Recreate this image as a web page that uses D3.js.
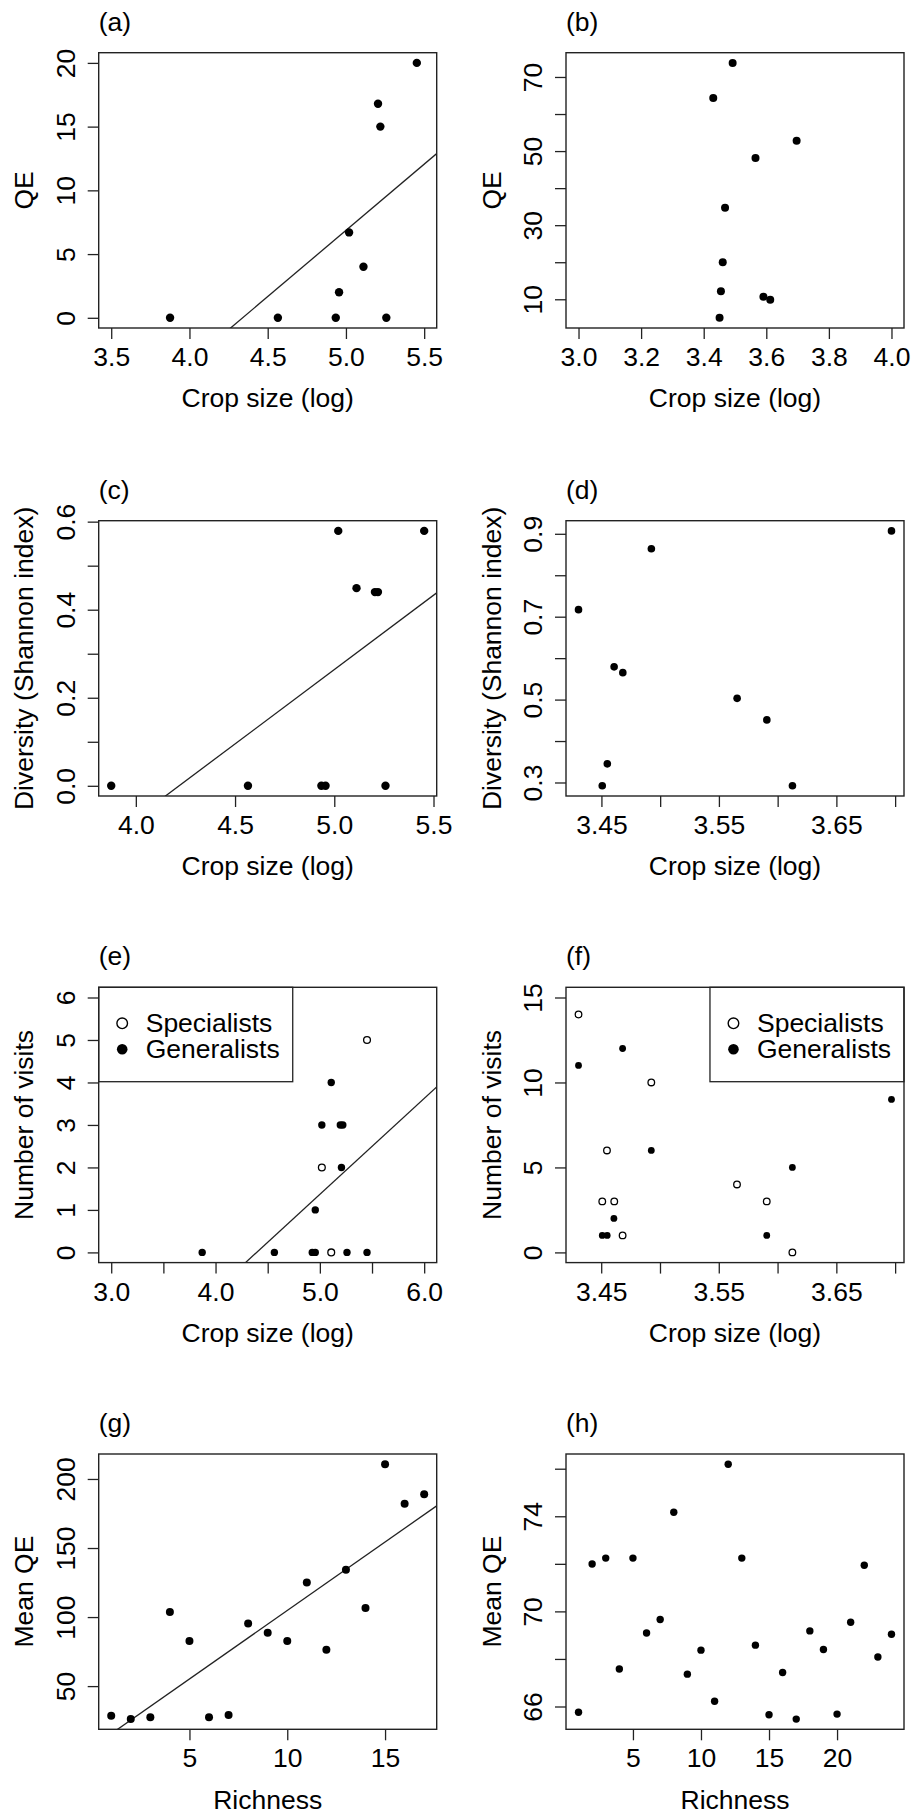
<!DOCTYPE html>
<html lang="en">
<head>
<meta charset="UTF-8">
<title>Crop size, QE, diversity and visits</title>
<script src="https://cdnjs.cloudflare.com/ajax/libs/d3/7.8.5/d3.min.js"></script>
<style>
  body { margin: 0; background: #fff; }
  svg { display: block; }
</style>
</head>
<body>
<svg id="chart" width="911" height="1816"></svg>
<script>
// ---- data ----
// crop size (log) of the sites, left column (a, c)
const cropDry = [3.876, 4.565, 4.935, 4.956, 5.02, 5.112, 5.205, 5.22, 5.258, 5.453];
const qeA     = [0, 0, 0, 2, 6.7, 4, 16.8, 15, 0, 20];
const divC    = [0, 0, 0, 0, 0.579, 0.449, 0.44, 0.44, 0, 0.579];

// crop size (log) of the sites, right column (b, d)
const cropWet = [3.4305, 3.4507, 3.455, 3.4608, 3.4682, 3.4925, 3.5655, 3.5908, 3.6126, 3.6969];
const qeB     = [64.3, 5.0, 12.2, 20, 34.7, 73.8, 48.1, 10.7, 9.9, 52.8];
const divD    = [0.717, 0.292, 0.345, 0.579, 0.565, 0.864, 0.503, 0.451, 0.292, 0.907];

// visits (e): visible points only
const specE_x = [5.019, 5.109, 5.452];
const specE_y = [2, 0, 5];
const genE_x  = [3.872, 4.564, 4.927, 4.956, 4.956, 5.019, 5.109, 5.196, 5.22, 5.207, 5.26, 5.452];
const genE_y  = [0, 0, 0, 0, 1, 3, 4, 3, 3, 2, 0, 0];

// visits (f)
const specF_x = [3.4307, 3.4926, 3.4549, 3.4509, 3.4611, 3.4682, 3.5655, 3.5908, 3.6126];
const specF_y = [14, 10, 6, 3, 3, 1, 4, 3, 0];
const genF_x  = [3.4307, 3.4682, 3.4926, 3.4608, 3.4509, 3.4551, 3.5908, 3.6126, 3.6969];
const genF_y  = [11, 12, 6, 2, 1, 1, 1, 5, 9];

// richness vs mean QE (g, h)
const richG   = [1, 2, 3, 4, 5, 6, 7, 8, 9, 10, 11, 12, 13, 14, 15, 16, 17];
const meanQeG = [28.5, 26.1, 27.5, 103.7, 82.7, 27.5, 29, 95.3, 88.7, 82.7, 125, 76.4, 134.2, 106.6, 210.7, 182, 188.9];
const richH   = [1, 2, 3, 4, 5, 6, 7, 8, 9, 10, 11, 12, 13, 14, 15, 16, 17, 18, 19, 20, 21, 22, 23, 24];
const meanQeH = [65.76, 71.99, 72.24, 67.58, 72.24, 69.09, 69.66, 74.17, 67.36, 68.37, 66.22, 76.19,
                 72.24, 68.58, 65.65, 67.43, 65.47, 69.18, 68.4, 65.68, 69.54, 71.94, 68.08, 69.04];

// fitted lines [intercept, slope]
const fitA = [-45.09, 10.39];
const fitC = [-1.424, 0.3376];
const fitE = [-9.917, 2.257];
const fitG = [5.55, 9.92];

// ticks and their labels ("" = tick without label)
const ticksA_x = [3.5, 4, 4.5, 5, 5.5],  labelsA_x = ["3.5", "4.0", "4.5", "5.0", "5.5"];
const ticksA_y = [0, 5, 10, 15, 20],     labelsA_y = ["0", "5", "10", "15", "20"];
const ticksB_x = [3, 3.2, 3.4, 3.6, 3.8, 4], labelsB_x = ["3.0", "3.2", "3.4", "3.6", "3.8", "4.0"];
const ticksB_y = [10, 20, 30, 40, 50, 60, 70], labelsB_y = ["10", "", "30", "", "50", "", "70"];
const ticksC_x = [4, 4.5, 5, 5.5],       labelsC_x = ["4.0", "4.5", "5.0", "5.5"];
const ticksC_y = [0, 0.1, 0.2, 0.3, 0.4, 0.5, 0.6], labelsC_y = ["0.0", "", "0.2", "", "0.4", "", "0.6"];
const ticksD_x = [3.45, 3.5, 3.55, 3.6, 3.65, 3.7], labelsD_x = ["3.45", "", "3.55", "", "3.65", ""];
const ticksD_y = [0.3, 0.4, 0.5, 0.6, 0.7, 0.8, 0.9], labelsD_y = ["0.3", "", "0.5", "", "0.7", "", "0.9"];
const ticksE_x = [3, 3.5, 4, 4.5, 5, 5.5, 6], labelsE_x = ["3.0", "", "4.0", "", "5.0", "", "6.0"];
const ticksE_y = [0, 1, 2, 3, 4, 5, 6],   labelsE_y = ["0", "1", "2", "3", "4", "5", "6"];
const ticksF_y = [0, 5, 10, 15],          labelsF_y = ["0", "5", "10", "15"];
const ticksG_x = [5, 10, 15],             labelsG_x = ["5", "10", "15"];
const ticksG_y = [50, 100, 150, 200],     labelsG_y = ["50", "100", "150", "200"];
const ticksH_x = [5, 10, 15, 20],         labelsH_x = ["5", "10", "15", "20"];
const ticksH_y = [66, 68, 70, 72, 74, 76], labelsH_y = ["66", "", "70", "", "74", ""];

const legendNames = ["Specialists", "Generalists"];

// ---- layout ----
const FONT = "'Liberation Sans', Arial, Helvetica, sans-serif";
const FS = 26.5;
const INK = "#222";
const colX = [98.7, 566];
const rowY = [52.7, 520.7, 987.3, 1454];
const plotW = 338, plotH = 275.3;

// R style axis range: data range widened by 4% on each side
function rlim(lo, hi) {
  const pad = (hi - lo) * 0.04;
  return [lo - pad, hi + pad];
}
const ext = (...arrs) => d3.extent(arrs.flat());

const crop = "Crop size (log)";
const panels = [
  { tag: "(a)", col: 0, row: 0, xlim: rlim(3.5, 5.5), ylim: rlim(...ext(qeA)),
    series: [{ x: cropDry, y: qeA, open: false, r: 4.2 }], fit: fitA,
    xt: ticksA_x, xl: labelsA_x, yt: ticksA_y, yl: labelsA_y, xTitle: crop, yTitle: "QE" },
  { tag: "(b)", col: 1, row: 0, xlim: rlim(3, 4), ylim: rlim(...ext(qeB)),
    series: [{ x: cropWet, y: qeB, open: false, r: 4 }],
    xt: ticksB_x, xl: labelsB_x, yt: ticksB_y, yl: labelsB_y, xTitle: crop, yTitle: "QE" },
  { tag: "(c)", col: 0, row: 1, xlim: rlim(...ext(cropDry)), ylim: rlim(...ext(divC)),
    series: [{ x: cropDry, y: divC, open: false, r: 4.2 }], fit: fitC,
    xt: ticksC_x, xl: labelsC_x, yt: ticksC_y, yl: labelsC_y, xTitle: crop, yTitle: "Diversity (Shannon index)" },
  { tag: "(d)", col: 1, row: 1, xlim: rlim(...ext(cropWet)), ylim: rlim(...ext(divD)),
    series: [{ x: cropWet, y: divD, open: false, r: 3.8 }],
    xt: ticksD_x, xl: labelsD_x, yt: ticksD_y, yl: labelsD_y, xTitle: crop, yTitle: "Diversity (Shannon index)" },
  { tag: "(e)", col: 0, row: 2, xlim: rlim(3, 6), ylim: rlim(0, 6),
    series: [{ x: specE_x, y: specE_y, open: true, r: 3.4 }, { x: genE_x, y: genE_y, open: false, r: 3.7 }], fit: fitE,
    legend: "left",
    xt: ticksE_x, xl: labelsE_x, yt: ticksE_y, yl: labelsE_y, xTitle: crop, yTitle: "Number of visits" },
  { tag: "(f)", col: 1, row: 2, xlim: rlim(...ext(specF_x, genF_x)), ylim: rlim(0, 15),
    series: [{ x: specF_x, y: specF_y, open: true, r: 3.3 }, { x: genF_x, y: genF_y, open: false, r: 3.4 }],
    legend: "right",
    xt: ticksD_x, xl: labelsD_x, yt: ticksF_y, yl: labelsF_y, xTitle: crop, yTitle: "Number of visits" },
  { tag: "(g)", col: 0, row: 3, xlim: rlim(...ext(richG)), ylim: rlim(...ext(meanQeG)),
    series: [{ x: richG, y: meanQeG, open: false, r: 4 }], fit: fitG,
    xt: ticksG_x, xl: labelsG_x, yt: ticksG_y, yl: labelsG_y, xTitle: "Richness", yTitle: "Mean QE" },
  { tag: "(h)", col: 1, row: 3, xlim: rlim(...ext(richH)), ylim: rlim(...ext(meanQeH)),
    series: [{ x: richH, y: meanQeH, open: false, r: 3.7 }],
    xt: ticksH_x, xl: labelsH_x, yt: ticksH_y, yl: labelsH_y, xTitle: "Richness", yTitle: "Mean QE" }
];

const svg = d3.select("#chart");
svg.append("rect").attr("width", 911).attr("height", 1816).attr("fill", "#fff");

function styleText(sel) {
  sel.attr("font-family", FONT).attr("font-size", FS).attr("fill", "#000");
}

panels.forEach((p, i) => {
  const g = svg.append("g").attr("transform", `translate(${colX[p.col]},${rowY[p.row]})`);
  const x = d3.scaleLinear().domain(p.xlim).range([0, plotW]);
  const y = d3.scaleLinear().domain(p.ylim).range([plotH, 0]);

  // x axis
  const xa = g.append("g").attr("transform", `translate(0,${plotH})`)
    .call(d3.axisBottom(x).tickValues(p.xt).tickFormat((d, k) => p.xl[k]).tickSize(11).tickSizeOuter(0));
  xa.select(".domain").remove();
  xa.selectAll("line").attr("stroke", INK).attr("stroke-width", 1.3);
  xa.selectAll("text").attr("y", 38).attr("dy", null).call(styleText);

  // y axis, labels parallel to the axis
  const ya = g.append("g")
    .call(d3.axisLeft(y).tickValues(p.yt).tickFormat((d, k) => p.yl[k]).tickSize(11).tickSizeOuter(0));
  ya.select(".domain").remove();
  ya.selectAll("line").attr("stroke", INK).attr("stroke-width", 1.3);
  ya.selectAll("text").attr("x", null).attr("dy", null).attr("text-anchor", "middle")
    .attr("transform", "translate(-24,0) rotate(-90)").call(styleText);

  // fitted line, clipped to the plot region
  if (p.fit) {
    const clipId = "clip" + i;
    g.append("clipPath").attr("id", clipId)
      .append("rect").attr("width", plotW).attr("height", plotH);
    const line = d3.line().x(d => x(d)).y(d => y(p.fit[0] + p.fit[1] * d));
    g.append("path").datum(p.xlim)
      .attr("d", line)
      .attr("clip-path", `url(#${clipId})`)
      .attr("fill", "none").attr("stroke", INK).attr("stroke-width", 1.3);
  }

  // points
  p.series.forEach(s => {
    g.append("g").selectAll("circle")
      .data(s.x.map((v, k) => [v, s.y[k]]))
      .join("circle")
      .attr("cx", d => x(d[0])).attr("cy", d => y(d[1]))
      .attr("r", s.r)
      .attr("fill", s.open ? "none" : "#000")
      .attr("stroke", "#000").attr("stroke-width", s.open ? 1.3 : 0);
  });

  // legend box
  if (p.legend) {
    const lg = g.append("g");
    const rows = [36, 62];
    const texts = lg.selectAll("text").data(legendNames).join("text")
      .attr("x", 47).attr("y", (d, k) => rows[k] + 8.5).text(d => d).call(styleText);
    let tw = 0;
    texts.each(function () { tw = Math.max(tw, this.getComputedTextLength()); });
    const lw = 47 + tw + 13, lh = 94.4;
    lg.insert("rect", "text").attr("width", lw).attr("height", lh)
      .attr("fill", "#fff").attr("stroke", INK).attr("stroke-width", 1.3);
    lg.selectAll("circle").data([true, false]).join("circle")
      .attr("cx", 23.5).attr("cy", (d, k) => rows[k]).attr("r", 5.3)
      .attr("fill", d => d ? "none" : "#000")
      .attr("stroke", "#000").attr("stroke-width", d => d ? 1.4 : 0);
    if (p.legend === "right") lg.attr("transform", `translate(${plotW - lw},0)`);
  }

  // plot box
  g.append("rect").attr("width", plotW).attr("height", plotH)
    .attr("fill", "none").attr("stroke", INK).attr("stroke-width", 1.4);

  // titles
  g.append("text").attr("x", plotW / 2).attr("y", plotH + 79.5)
    .attr("text-anchor", "middle").text(p.xTitle).call(styleText);
  g.append("text").attr("transform", `translate(-65.5,${plotH / 2}) rotate(-90)`)
    .attr("text-anchor", "middle").text(p.yTitle).call(styleText);
  g.append("text").attr("x", 0).attr("y", -22).text(p.tag).call(styleText);
});
</script>
</body>
</html>
